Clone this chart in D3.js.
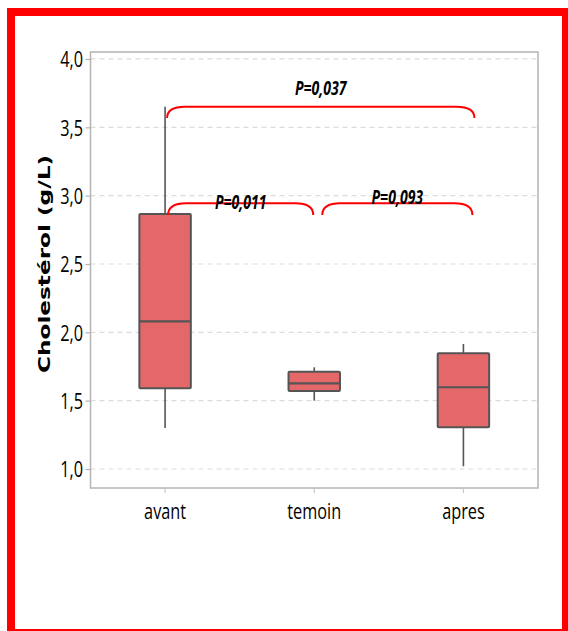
<!DOCTYPE html>
<html>
<head>
<meta charset="utf-8">
<script src="https://cdn.jsdelivr.net/npm/d3@7"></script>
<style>
  html, body { margin: 0; padding: 0; background: #fff; }
  svg { display: block; }
</style>
</head>
<body>
<svg id="chart" width="568" height="631"></svg>
<script>
// Groups and their box-plot summaries (g/L)
const groups = ["avant", "temoin", "apres"];
const whiskerLow  = [1.30, 1.50, 1.02];
const q1          = [1.59, 1.57, 1.305];
const median      = [2.08, 1.627, 1.598];
const q3          = [2.865, 1.712, 1.847];
const whiskerHigh = [3.65, 1.744, 1.915];

const yTicks = [1.0, 1.5, 2.0, 2.5, 3.0, 3.5, 4.0];

// Pairwise comparisons shown as brackets above the boxes
const compFrom   = ["avant", "avant", "temoin"];
const compTo     = ["apres", "temoin", "apres"];
const compLabel  = ["P=0,037", "P=0,011", "P=0,093"];
const compTop    = [3.651, 2.944, 2.944];
const compEnd    = [3.568, 2.859, 2.859];
const compText   = [3.737, 2.90, 2.94];

const svg = d3.select("#chart");
const plot = { left: 90.5, right: 538, top: 52, bottom: 488 };
const CONDENSE = 0.74;
const fmt = v => d3.format(".1f")(v).replace(".", ",");

// Red outer frame
svg.append("rect")
  .attr("x", 11).attr("y", 12)
  .attr("width", 555).attr("height", 621)
  .attr("fill", "none").attr("stroke", "#ff0000").attr("stroke-width", 8);

const x = d3.scaleBand().domain(groups).range([plot.left, plot.right]).padding(0);
const y = d3.scaleLinear().domain([0.861, 4.051]).range([plot.bottom, plot.top]);

// Dashed horizontal gridlines
svg.append("g").selectAll("line").data(yTicks).join("line")
  .attr("x1", plot.left).attr("x2", plot.right)
  .attr("y1", d => y(d)).attr("y2", d => y(d))
  .attr("stroke", "#dcdcdc").attr("stroke-width", 1.2)
  .attr("stroke-dasharray", "5,4");

// Plot frame
svg.append("rect")
  .attr("x", plot.left).attr("y", plot.top)
  .attr("width", plot.right - plot.left).attr("height", plot.bottom - plot.top)
  .attr("fill", "none").attr("stroke", "#b4b4b4").attr("stroke-width", 1.5);

// Y axis
const yAxis = svg.append("g")
  .attr("transform", `translate(${plot.left},0)`)
  .call(d3.axisLeft(y).tickValues(yTicks).tickFormat(fmt).tickSize(5).tickPadding(3));
yAxis.select(".domain").remove();
yAxis.selectAll(".tick line").attr("stroke", "#b4b4b4").attr("stroke-width", 1.2);
yAxis.selectAll(".tick text")
  .attr("font-family", "'Open Sans', 'Noto Sans', sans-serif")
  .attr("font-size", 22)
  .attr("fill", "#000")
  .attr("x", -7.5 / CONDENSE)
  .attr("dy", "0.36em")
  .attr("transform", `scale(${CONDENSE},1)`);

// X axis
const xAxis = svg.append("g")
  .attr("transform", `translate(0,${plot.bottom})`)
  .call(d3.axisBottom(x).tickSize(5).tickPadding(0));
xAxis.select(".domain").remove();
xAxis.selectAll(".tick line").attr("stroke", "#c8c8c8").attr("stroke-width", 1.2);
xAxis.selectAll(".tick text")
  .attr("font-family", "'Open Sans', 'Noto Sans', sans-serif")
  .attr("font-size", 22)
  .attr("fill", "#000")
  .attr("y", 31).attr("dy", 0)
  .attr("transform", `scale(${CONDENSE},1)`)
  .attr("x", 0);

// Boxes
const boxW = x.bandwidth() * 0.345;
const boxes = svg.append("g").selectAll("g").data(groups).join("g")
  .attr("transform", d => `translate(${x(d) + x.bandwidth() / 2},0)`);

boxes.append("line")
  .attr("x1", 0).attr("x2", 0)
  .attr("y1", (d, i) => y(whiskerHigh[i])).attr("y2", (d, i) => y(q3[i]))
  .attr("stroke", "#555").attr("stroke-width", 1.6);
boxes.append("line")
  .attr("x1", 0).attr("x2", 0)
  .attr("y1", (d, i) => y(q1[i])).attr("y2", (d, i) => y(whiskerLow[i]))
  .attr("stroke", "#555").attr("stroke-width", 1.6);
boxes.append("rect")
  .attr("x", -boxW / 2).attr("width", boxW)
  .attr("y", (d, i) => y(q3[i]))
  .attr("height", (d, i) => y(q1[i]) - y(q3[i]))
  .attr("fill", "#e4676a").attr("stroke", "#555").attr("stroke-width", 2)
  .attr("rx", 1);
boxes.append("line")
  .attr("x1", -boxW / 2).attr("x2", boxW / 2)
  .attr("y1", (d, i) => y(median[i])).attr("y2", (d, i) => y(median[i]))
  .attr("stroke", "#555").attr("stroke-width", 2.2);

// Comparison brackets
const cx = d => x(d) + x.bandwidth() / 2;
const bx1 = compFrom.map((g, i) => cx(g) + [2, 3, 8][i]);
const bx2 = compTo.map((g, i) => cx(g) + [11, -1, 9][i]);
const brackets = svg.append("g");
compLabel.forEach((lab, i) => {
  const x1 = bx1[i], x2 = bx2[i];
  const yt = y(compTop[i]), ye = y(compEnd[i]);
  const r = 18;
  const p = d3.path();
  p.moveTo(x1, ye);
  p.quadraticCurveTo(x1, yt, x1 + r, yt);
  p.lineTo(x2 - r, yt);
  p.quadraticCurveTo(x2, yt, x2, ye);
  brackets.append("path")
    .attr("d", p.toString())
    .attr("fill", "none").attr("stroke", "#ff0000").attr("stroke-width", 2);
  const mx = (x1 + x2) / 2;
  brackets.append("text")
    .attr("transform", `translate(${mx},${y(compText[i])}) scale(${CONDENSE},1)`)
    .attr("text-anchor", "middle")
    .attr("font-family", "'Open Sans', 'Noto Sans', sans-serif")
    .attr("font-weight", "bold").attr("font-style", "italic")
    .attr("font-size", 19).attr("fill", "#000")
    .text(lab);
});

// Y axis title
svg.append("text")
  .attr("transform", "translate(50,264) rotate(-90)")
  .attr("text-anchor", "middle")
  .attr("font-family", "'DejaVu Sans', Verdana, sans-serif")
  .attr("font-weight", "bold")
  .attr("font-size", 16)
  .attr("textLength", 218).attr("lengthAdjust", "spacingAndGlyphs")
  .attr("fill", "#000")
  .text("Cholestérol (g/L)");
</script>
</body>
</html>
